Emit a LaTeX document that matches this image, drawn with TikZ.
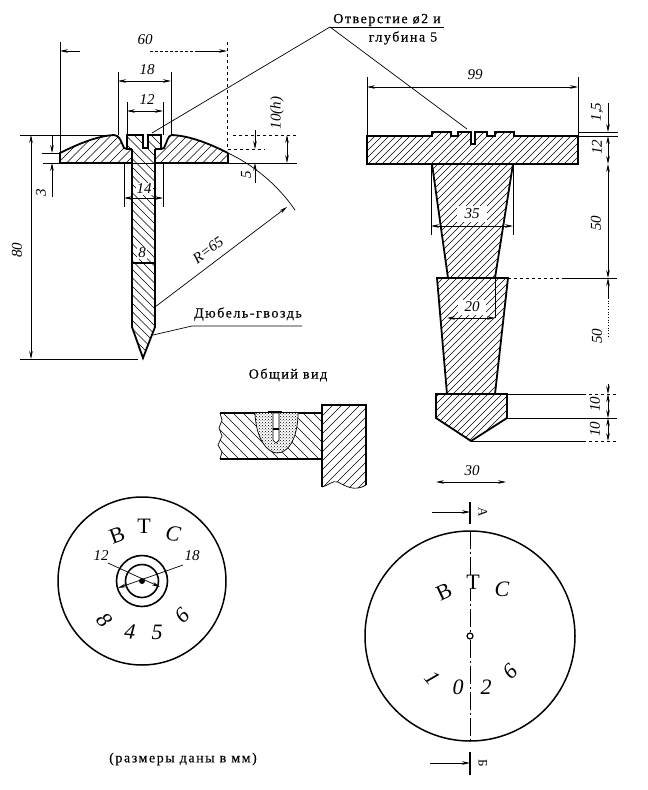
\documentclass[tikz,border=0pt]{standalone}
\usepackage{fontspec}
\setmainfont{Liberation Serif}
\newfontfamily\typefont[LetterSpace=11,FakeBold=0.4]{Liberation Serif}
\usetikzlibrary{arrows.meta,patterns}

\tikzset{
    contour/.style={line width=1.8pt},
    thinline/.style={line width=0.7pt},
    dimline/.style={line width=0.7pt, {Stealth[length=8pt,width=3.6pt]}-{Stealth[length=8pt,width=3.6pt]}},
    tipline/.style={line width=0.7pt, -{Stealth[length=8pt,width=3.6pt]}},
    numlabel/.style={font=\itshape\fontsize{15}{15}\selectfont, inner sep=1pt},
    bignum/.style={font=\itshape\fontsize{22}{22}\selectfont, inner sep=0pt},
    letterlabel/.style={font=\fontsize{22}{22}\selectfont, inner sep=0pt},
    slantlabel/.style={font=\itshape\fontsize{22}{22}\selectfont, inner sep=0pt},
    wordlabel/.style={font=\typefont\fontsize{14}{15}\selectfont, inner sep=0pt},
    hatchline/.style={line width=0.6pt}
}

% hatching of a region, rising to the right and falling to the right
\newcommand{\hatchup}[2]{%
    \begin{scope}
        \clip #1;
        \foreach \k in {0,#2,...,1500} {
            \draw[hatchline] (\k,0) -- (\k-800,800);
        }
    \end{scope}}
\newcommand{\hatchdown}[2]{%
    \begin{scope}
        \clip #1;
        \foreach \k in {0,#2,...,1500} {
            \draw[hatchline] (\k-800,0) -- (\k,800);
        }
    \end{scope}}

\begin{document}
\begin{tikzpicture}[x=1pt, y=-1pt]
    \useasboundingbox (0,0) rectangle (648,790);

    % nail, section
    \begin{scope}
        \hatchup{(60,163) -- (60,153) .. controls (80,143) and (98,136) .. (114,135) .. controls (120,135) and (121,142) .. (124,148) -- (127,149) -- (132,149) -- (132,163) -- cycle}{8.5}
        \hatchup{(228,163) -- (228,153) .. controls (208,143) and (190,136) .. (172,135) .. controls (168,135) and (167,142) .. (164,148) -- (161,149) -- (155,149) -- (155,163) -- cycle}{8.5}
        \hatchdown{(132,148) -- (127,148) -- (127,135) -- (143,135) -- (143,148) -- (148,148) -- (148,135) -- (161,135) -- (161,149) -- (155,149) -- (155,327) -- (143,358) -- (132,327) -- cycle}{8.5}
        \draw[contour] (60,163) -- (60,153) .. controls (80,143) and (98,136) .. (114,135) .. controls (120,135) and (121,142) .. (124,148) -- (127,149);
        \draw[contour] (228,153) .. controls (208,143) and (190,136) .. (172,135) .. controls (168,135) and (167,142) .. (164,148) -- (161,149);
        \draw[contour] (228,153) -- (228,163) -- (155,163);
        \draw[contour] (60,163) -- (132,163);
        \draw[contour] (132,149) -- (127,149) -- (127,135) -- (143,135) -- (143,148) -- (148,148) -- (148,135) -- (161,135) -- (161,149) -- (155,149);
        \draw[contour] (132,149) -- (132,327) -- (143,358) -- (155,327) -- (155,149);
        \draw[contour] (132,263) -- (155,263);
    \end{scope}

    % nail, dimensions
    \draw[thinline] (60,42) -- (60,153);
    \draw[thinline, dashed] (227,42) -- (227,150);
    \draw[tipline] (80,51) -- (60,51);
    \draw[tipline] (195,51) -- (227,51);
    \draw[thinline, densely dashed] (150,51) -- (195,51);
    \node[numlabel] (len60) at (145,40) {60};
    \draw[thinline] (118,72) -- (118,135);
    \draw[thinline] (171,72) -- (171,135);
    \draw[dimline] (118,81) -- (171,81);
    \node[numlabel] (len18) at (147,70) {18};
    \draw[thinline] (127,102) -- (127,135);
    \draw[thinline] (163,102) -- (163,135);
    \draw[dimline] (127,111) -- (163,111);
    \node[numlabel] (len12) at (147,100) {12};
    \draw[thinline] (124,163) -- (124,207);
    \draw[thinline] (163,163) -- (163,207);
    \draw[dimline] (124,198) -- (163,198);
    \node[numlabel, fill=white] (len14) at (144,189) {14};
    \node[numlabel, fill=white] (len8) at (142,253) {8};
    \draw[thinline] (20,135) -- (115,135);
    \draw[thinline] (43,163) -- (297,163);
    \draw[thinline] (42,153) -- (60,153);
    \draw[thinline] (20,359) -- (138,359);
    \draw[dimline] (31,135) -- (31,359);
    \node[numlabel, rotate=90] (len80) at (17,250) {80};
    \draw[tipline] (52,135) -- (52,153);
    \draw[tipline] (52,197) -- (52,163);
    \node[numlabel, rotate=90] (len3) at (41,193) {3};
    \draw[thinline, dashed] (233,135) -- (297,135);
    \draw[dimline] (287,135) -- (287,163);
    \node[numlabel, rotate=90] (len10h) at (277,113) {10(h)};
    \draw[thinline, dashed] (228,149) -- (265,149);
    \draw[tipline] (255,130) -- (255,149);
    \draw[tipline] (255,183) -- (255,163);
    \node[numlabel, rotate=90] (len5) at (246,175) {5};
    \draw[thinline] (228,153) arc[start angle=-64.6, end angle=-34.5, radius=170];
    \draw[tipline] (155,307) -- (287,207);
    \node[numlabel, rotate=37] (rad65) at (208,250) {R=65};
    \node[wordlabel] (dowel) at (248,314) {Дюбель-гвоздь};
    \draw[thinline] (153,335) -- (192,326) -- (302,326);

    % hole note with its two leaders
    \node[wordlabel] (hole) at (387,20) {Отверстие ø2 и};
    \node[wordlabel] (depth) at (403,38) {глубина 5};
    \draw[thinline] (330,27) -- (444,27);
    \draw[thinline] (152,133) -- (330,27) -- (467,129);

    % plug, section
    \begin{scope}
        \hatchup{(367,136) -- (432,136) -- (432,132) -- (451,132) -- (451,136) -- (458,136) -- (458,132) -- (471,132) -- (471,144) -- (475,144) -- (475,132) -- (487,132) -- (487,136) -- (495,136) -- (495,132) -- (514,132) -- (514,136) -- (578,136) -- (578,164) -- (367,164) -- cycle}{7}
        \hatchup{(432,164) -- (513,164) -- (495,278) -- (448,278) -- cycle}{7}
        \hatchup{(437,278) -- (508,278) -- (495,394) -- (447,394) -- cycle}{7}
        \hatchup{(436,394) -- (507,394) -- (507,418) -- (471,441) -- (436,418) -- cycle}{7}
        \draw[contour] (367,136) -- (432,136) -- (432,132) -- (451,132) -- (451,136) -- (458,136) -- (458,132) -- (471,132) -- (471,144) -- (475,144) -- (475,132) -- (487,132) -- (487,136) -- (495,136) -- (495,132) -- (514,132) -- (514,136) -- (578,136) -- (578,164) -- (367,164) -- cycle;
        \draw[contour] (432,164) -- (448,278);
        \draw[contour] (513,164) -- (495,278);
        \draw[contour] (447,394) -- (437,278) -- (508,278) -- (495,394);
        \draw[contour] (436,394) -- (507,394) -- (507,418) -- (471,441) -- (436,418) -- cycle;
    \end{scope}

    % plug, dimensions
    \draw[thinline] (367,77) -- (367,136);
    \draw[thinline] (578,77) -- (578,136);
    \draw[dimline] (367,87) -- (578,87);
    \node[numlabel] (len99) at (475,75) {99};
    \draw[thinline] (431,164) -- (431,235);
    \draw[thinline] (513,164) -- (513,235);
    \node[numlabel, fill=white, minimum width=30pt, minimum height=16pt] (len35) at (472,214) {35};
    \draw[dimline] (431,226) -- (513,226);
    \node[numlabel, fill=white, minimum width=28pt, minimum height=15pt] (len20) at (472,307) {20};
    \draw[thinline] (495,278) -- (495,318);
    \draw[dimline] (447,318) -- (495,318);
    \draw[thinline] (578,132) -- (618,132);
    \draw[thinline] (578,136) -- (618,136);
    \draw[thinline, dashed] (508,278) -- (565,278);
    \draw[thinline] (565,278) -- (617,278);
    \draw[thinline] (507,394) -- (583,394);
    \draw[thinline, dashed] (583,394) -- (617,394);
    \draw[thinline] (507,418) -- (617,418);
    \draw[thinline] (471,441) -- (583,441);
    \draw[thinline, dashed] (583,441) -- (617,441);
    \draw[tipline] (608,103) -- (608,132);
    \draw[dimline] (608,136) -- (608,164);
    \draw[dimline] (608,164) -- (608,278);
    \draw[tipline] (608,298) -- (608,278);
    \draw[thinline, dotted] (608,298) -- (608,337);
    \draw[tipline] (608,384) -- (608,394);
    \draw[dimline] (608,394) -- (608,418);
    \draw[dimline] (608,418) -- (608,441);
    \node[numlabel, rotate=90] (len15) at (597,112) {1,5};
    \node[numlabel, rotate=90] (len12b) at (597,147) {12};
    \node[numlabel, rotate=90] (len50a) at (596,223) {50};
    \node[numlabel, rotate=90] (len50b) at (597,336) {50};
    \node[numlabel, rotate=90] (len10a) at (595,404) {10};
    \node[numlabel, rotate=90] (len10b) at (595,429) {10};
    \node[numlabel] (len30) at (472,471) {30};
    \draw[dimline] (436,482) -- (506,482);

    % general view
    \node[wordlabel] (general) at (288,375) {Общий вид};
    \begin{scope}
        \hatchdown{(220,413) -- (222,420) -- (219,428) -- (222,436) -- (218,445) -- (222,452) -- (220,459) -- (322,459) -- (322,413) -- cycle}{10}
        \hatchup{(322,405) -- (366,405) -- (366,485) .. controls (355,492) and (345,486) .. (338,482) .. controls (332,480) and (328,486) .. (322,487) -- cycle}{9}
        \draw[thinline] (220,413) -- (222,420) -- (219,428) -- (222,436) -- (218,445) -- (222,452) -- (220,459);
        \draw[contour, line width=1.2pt] (220,413) -- (322,413);
        \draw[contour, line width=1.2pt] (220,459) -- (322,459);
        \draw[contour, line width=1.2pt] (322,487) -- (322,405) -- (366,405) -- (366,485);
        \draw[thinline] (366,485) .. controls (355,492) and (345,486) .. (338,482) .. controls (332,480) and (328,486) .. (322,487);
        \path[fill=white] (255,413) .. controls (256,440) and (268,453) .. (277,453) .. controls (290,453) and (298,435) .. (298,413) -- cycle;
        \path[pattern=crosshatch dots] (255,413) .. controls (256,440) and (268,453) .. (277,453) .. controls (290,453) and (298,435) .. (298,413) -- cycle;
        \draw[thinline] (255,413) .. controls (256,440) and (268,453) .. (277,453) .. controls (290,453) and (298,435) .. (298,413);
        \draw[thinline, fill=white] (273,413) -- (273,440) -- (276,443) -- (279,440) -- (279,413) -- cycle;
        \draw[contour, line width=2.4pt] (268,412) -- (282,412);
        \draw[contour] (273,429) -- (279,429);
    \end{scope}

    % left disc
    \begin{scope}
        \node[draw, circle, line width=1.5pt, minimum size=168pt] (discA) at (142,581) {};
        \node[draw, circle, line width=1.6pt, minimum size=51pt] (ringA) at (142,581) {};
        \node[draw, circle, line width=1.6pt, minimum size=33pt] (ringB) at (142,581) {};
        \node[circle, fill=black, inner sep=0pt, minimum size=6pt] (holeA) at (142,581) {};
        \node[letterlabel, rotate=20] (letB) at (117,535) {В};
        \node[letterlabel] (letT) at (144,526) {Т};
        \node[slantlabel, rotate=-10] (letC) at (173,534) {С};
        \node[bignum, rotate=-50] (numA) at (105,620) {8};
        \node[bignum, rotate=-5] (numB) at (130,632) {4};
        \node[bignum] (numC) at (157,632) {5};
        \node[bignum, rotate=45] (numD) at (182,616) {6};
        \node[numlabel] (lab12) at (101,556) {12};
        \node[numlabel] (lab18) at (192,556) {18};
        \draw[tipline] (108,563) -- (160,587);
        \draw[tipline] (183,565) -- (118,588);
    \end{scope}
    \node[wordlabel] (units) at (183,759) {(размеры даны в мм)};

    % right disc with section marks
    \begin{scope}
        \node[draw, circle, line width=1.5pt, minimum size=210pt] (discB) at (470,636) {};
        \node[draw, circle, line width=1.2pt, minimum size=6pt, inner sep=0pt] (holeB) at (470,636) {};
        \draw[thinline, dash pattern=on 18pt off 3pt on 2pt off 3pt] (470,531) -- (holeB);
        \draw[thinline, dash pattern=on 18pt off 3pt on 2pt off 3pt] (holeB) -- (470,742);
        \node[letterlabel, fill=white, rotate=25] (letB2) at (444,592) {В};
        \node[letterlabel, fill=white] (letT2) at (473,582) {Т};
        \node[slantlabel] (letC2) at (502,589) {С};
        \node[bignum, rotate=-50] (num1) at (433,678) {1};
        \node[bignum] (num0) at (458,687) {0};
        \node[bignum] (num2) at (486,687) {2};
        \node[bignum, rotate=45] (num6) at (510,672) {6};
        \draw[contour, line width=1.2pt] (470,502) -- (470,524);
        \draw[tipline] (432,512) -- (470,512);
        \node[font=\fontsize{13}{13}\selectfont, inner sep=0pt, rotate=-90] (cutA) at (483,512) {А};
        \draw[contour, line width=1.2pt] (470,752) -- (470,775);
        \draw[tipline] (430,763) -- (470,763);
        \node[font=\fontsize{13}{13}\selectfont, inner sep=0pt, rotate=-90] (cutB) at (483,763) {Б};
    \end{scope}

\end{tikzpicture}
\end{document}
